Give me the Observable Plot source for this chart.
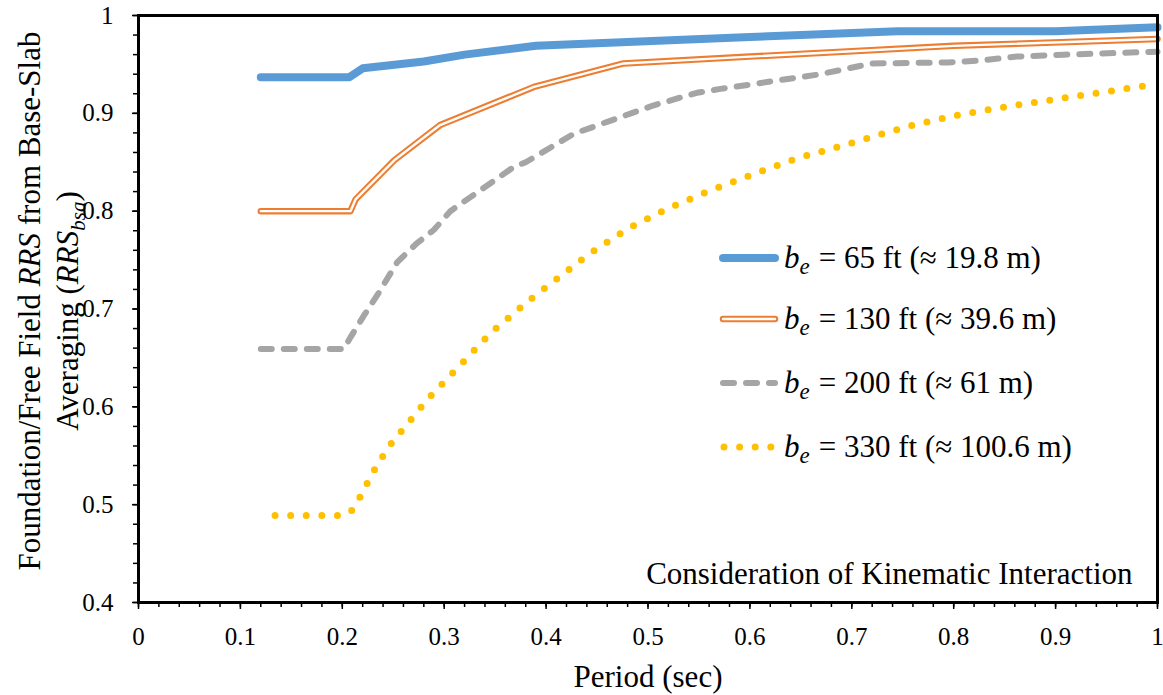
<!DOCTYPE html>
<html>
<head>
<meta charset="utf-8">
<script src="https://cdn.jsdelivr.net/npm/d3@7"></script>
<script src="https://cdn.jsdelivr.net/npm/@observablehq/plot@0.6"></script>
<style>
  body { margin: 0; background: white; }
  #wrap { position: relative; width: 1163px; height: 695px; }
  #legend { position: absolute; left: 0; top: 0; pointer-events: none; }
</style>
</head>
<body>
<div id="wrap"></div>
<script>
// ---- data ----
const periodBlue = [0.12, 0.207, 0.22, 0.28, 0.32, 0.39, 0.48, 0.6, 0.745, 0.9, 1.0];
const rrsBlue    = [0.937, 0.937, 0.946, 0.953, 0.960, 0.969, 0.973, 0.978, 0.984, 0.984, 0.988];

const periodOrange = [0.12, 0.208, 0.213, 0.251, 0.296, 0.388, 0.476, 0.6, 0.7, 0.8, 1.0];
const rrsOrange    = [0.800, 0.800, 0.812, 0.852, 0.888, 0.927, 0.951, 0.958, 0.9635, 0.969, 0.976];

const periodGray = [0.12, 0.2015, 0.208, 0.221, 0.236, 0.254, 0.273, 0.29, 0.306, 0.368, 0.38, 0.427, 0.47, 0.505, 0.548, 0.571, 0.604, 0.669, 0.72, 0.794, 0.826, 0.862, 0.908, 1.0];
const rrsGray    = [0.659, 0.659, 0.671, 0.693, 0.717, 0.748, 0.767, 0.781, 0.800, 0.845, 0.850, 0.879, 0.895, 0.908, 0.921, 0.925, 0.930, 0.940, 0.951, 0.952, 0.954, 0.958, 0.960, 0.963];

const periodYellow = [0.134, 0.195, 0.208, 0.216, 0.230, 0.246, 0.265, 0.284, 0.305, 0.326, 0.347, 0.370, 0.381, 0.406, 0.442, 0.480, 0.520, 0.561, 0.604, 0.646, 0.691, 0.72, 0.764, 0.808, 0.853, 0.898, 0.942, 0.988, 1.0];
const rrsYellow    = [0.489, 0.489, 0.492, 0.505, 0.533, 0.560, 0.584, 0.608, 0.631, 0.654, 0.677, 0.697, 0.707, 0.727, 0.756, 0.782, 0.803, 0.821, 0.838, 0.854, 0.867, 0.876, 0.889, 0.899, 0.907, 0.914, 0.921, 0.928, 0.930];

const seriesNames = ["65 ft", "130 ft", "200 ft", "330 ft"];
const legendLabels = ["= 65 ft (≈ 19.8 m)", "= 130 ft (≈ 39.6 m)", "= 200 ft (≈ 61 m)", "= 330 ft (≈ 100.6 m)"];
const xTickLabels = [0, 0.1, 0.2, 0.3, 0.4, 0.5, 0.6, 0.7, 0.8, 0.9, 1];
const yTickLabels = [0.4, 0.5, 0.6, 0.7, 0.8, 0.9, 1];
const xTitle = "Period (sec)";
const yTitle1 = "Foundation/Free Field RRS from Base-Slab";
const yTitle2 = "Averaging (RRSbsa)";
const note = "Consideration of Kinematic Interaction";

// ---- build tables ----
const toRows = (xs, ys) => xs.map((x, i) => ({period: x, rrs: ys[i]}));
const blue = toRows(periodBlue, rrsBlue);
const orange = toRows(periodOrange, rrsOrange);
const gray = toRows(periodGray, rrsGray);
const yellow = toRows(periodYellow, rrsYellow);

const FONT = "'Liberation Serif', 'Times New Roman', serif";
const C = {blue: "#5B9BD5", orange: "#ED7D31", gray: "#A5A5A5", yellow: "#FFC000"};

const minorX = d3.range(0, 51).map(i => i / 50);
const minorY = d3.range(0, 31).map(i => 0.4 + i / 50);
const fmt = d => String(+d.toFixed(1));

const common = {x: "period", y: "rrs", strokeLinecap: "round", strokeLinejoin: "round"};

const chart = Plot.plot({
  width: 1163,
  height: 695,
  marginLeft: 138,
  marginRight: 6,
  marginTop: 15,
  marginBottom: 93,
  style: {fontFamily: FONT, fontSize: "25px", color: "black", background: "white"},
  x: {domain: [0, 1]},
  y: {domain: [0.4, 1]},
  marks: [
    Plot.axisX({ticks: minorX, tickSize: 5, tickFormat: () => "", label: null, strokeWidth: 1.5}),
    Plot.axisX({ticks: xTickLabels, tickSize: 7, tickPadding: 18, tickFormat: fmt, label: null, strokeWidth: 1.5, fontSize: 25, fontFamily: FONT}),
    Plot.axisY({ticks: minorY, tickSize: 5, tickFormat: () => "", label: null, strokeWidth: 1.5}),
    Plot.axisY({ticks: yTickLabels, tickSize: 6, tickPadding: 19, tickFormat: fmt, label: null, strokeWidth: 1.5, fontSize: 25, fontFamily: FONT}),
    Plot.line(blue, {...common, stroke: C.blue, strokeWidth: 8}),
    Plot.line(orange, {...common, stroke: C.orange, strokeWidth: 6.5}),
    Plot.line(orange, {...common, stroke: "white", strokeWidth: 2.4}),
    Plot.line(gray, {...common, stroke: C.gray, strokeWidth: 6, strokeDasharray: "11 12"}),
    Plot.line(yellow, {...common, stroke: C.yellow, strokeWidth: 7, strokeDasharray: "0 15.6"}),
    Plot.frame({stroke: "black", strokeWidth: 3}),
    Plot.text([xTitle], {frameAnchor: "bottom", dy: 84, fontSize: 31, fill: "black", fontFamily: FONT}),
    Plot.text([yTitle1], {frameAnchor: "left", dx: -108, dy: -8, rotate: -90, textAnchor: "middle", fontSize: 31, fill: "black", fontFamily: FONT}),
    Plot.text([yTitle2], {frameAnchor: "left", dx: -70, dy: 2, rotate: -90, textAnchor: "middle", fontSize: 31, fill: "black", fontFamily: FONT}),
    Plot.text([note], {frameAnchor: "bottom-right", dx: -25, dy: -19, textAnchor: "end", fontSize: 31, fill: "black", fontFamily: FONT})
  ]
});

const wrap = document.getElementById("wrap");
wrap.appendChild(chart);

// rich text in the y-axis title (italic RRS, subscript bsa)
d3.select(chart).selectAll("text").each(function () {
  const t = d3.select(this);
  const s = this.textContent;
  if (s === yTitle1) {
    this.textContent = "";
    t.append("tspan").text("Foundation/Free Field ");
    t.append("tspan").attr("font-style", "italic").text("RRS");
    t.append("tspan").text(" from Base-Slab");
  } else if (s === yTitle2) {
    this.textContent = "";
    t.append("tspan").text("Averaging (");
    t.append("tspan").attr("font-style", "italic").text("RRS");
    t.append("tspan").attr("font-style", "italic").attr("font-size", "21px").attr("dy", 7).text("bsa");
    t.append("tspan").attr("dy", -7).text(")");
  }
});

// ---- legend (inside plot area, right side) ----
const styles = [
  {stroke: C.blue, width: 8, dash: null, dbl: false},
  {stroke: C.orange, width: 6.5, dash: null, dbl: true},
  {stroke: C.gray, width: 6, dash: "11 12", dbl: false},
  {stroke: C.yellow, width: 7, dash: "0 15.6", dbl: false}
];
const lg = d3.select(wrap).append("svg").attr("id", "legend").attr("width", 1163).attr("height", 695)
  .style("font-family", FONT);
const rowY = [258, 319, 383, 447];
seriesNames.forEach((name, i) => {
  const st = styles[i];
  const y = rowY[i];
  const x0 = i === 3 ? 724 : 723, x1 = i === 3 ? 772 : 775;
  const ln = lg.append("line").attr("x1", x0).attr("x2", x1).attr("y1", y).attr("y2", y)
    .attr("stroke", st.stroke).attr("stroke-width", st.width).attr("stroke-linecap", "round");
  if (st.dash) ln.attr("stroke-dasharray", st.dash);
  if (st.dbl) lg.append("line").attr("x1", x0).attr("x2", x1).attr("y1", y).attr("y2", y)
    .attr("stroke", "white").attr("stroke-width", 2.4).attr("stroke-linecap", "round");
  const tx = lg.append("text").attr("x", 784).attr("y", y + 10).attr("font-size", 31).attr("fill", "black");
  tx.append("tspan").attr("font-style", "italic").text("b");
  tx.append("tspan").attr("font-style", "italic").attr("font-size", 23).attr("dy", 6).text("e");
  tx.append("tspan").attr("dy", -6).attr("dx", 9).text(legendLabels[i]);
});
</script>
</body>
</html>
